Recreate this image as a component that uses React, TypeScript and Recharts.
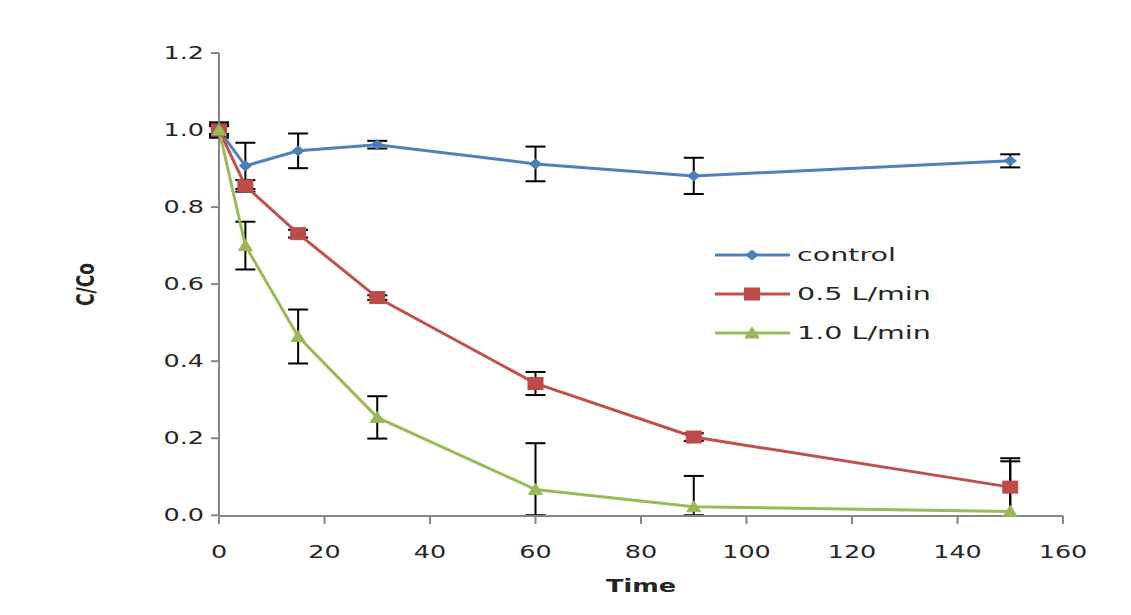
import React from "react";
import { LineChart, Line, XAxis, YAxis, ErrorBar, Legend } from "recharts";

const times = [0, 5, 15, 30, 60, 90, 150];
const control = [1.0, 0.907, 0.946, 0.962, 0.912, 0.881, 0.92];
const controlErr = [0.02, 0.06, 0.045, 0.01, 0.045, 0.047, 0.017];
const lpm05 = [1.0, 0.855, 0.731, 0.565, 0.342, 0.203, 0.073];
const lpm05Err = [0.015, 0.015, 0.01, 0.006, 0.03, 0.01, 0.075];
const lpm10 = [1.0, 0.7, 0.464, 0.254, 0.067, 0.022, 0.01];
const lpm10Err: [number, number][] = [
  [0.01, 0.01],
  [0.062, 0.062],
  [0.07, 0.07],
  [0.055, 0.055],
  [0.067, 0.12],
  [0.022, 0.08],
  [0.012, 0.13],
];
const xTicks = [0, 20, 40, 60, 80, 100, 120, 140, 160];
const yTicks = [0, 0.2, 0.4, 0.6, 0.8, 1.0, 1.2];
const seriesNames = ["control", "0.5 L/min", "1.0 L/min"];

const data = times.map((t, i) => ({
  t,
  control: control[i],
  controlErr: controlErr[i],
  lpm05: lpm05[i],
  lpm05Err: lpm05Err[i],
  lpm10: lpm10[i],
  lpm10Err: lpm10Err[i],
}));

const BLUE = "#4f81bd";
const RED = "#c0504d";
const GREEN = "#9bbb59";
const AXIS = "#868686";
const FONT = "'DejaVu Sans', Verdana, sans-serif";
const SX = 1.5;
const LSX = 1.68;

const Diamond = (p: any) => {
  const { cx, cy } = p;
  if (cx == null || cy == null) return null;
  return <path d={`M${cx},${cy - 5} L${cx + 6},${cy} L${cx},${cy + 5} L${cx - 6},${cy} Z`} fill="#4a7ebb" stroke="#4a7ebb" />;
};
const Square = (p: any) => {
  const { cx, cy } = p;
  if (cx == null || cy == null) return null;
  return <rect x={cx - 7.5} y={cy - 6} width={15} height={12} fill="#be4b48" stroke="#be4b48" />;
};
const Triangle = (p: any) => {
  const { cx, cy } = p;
  if (cx == null || cy == null) return null;
  return <path d={`M${cx},${cy - 6} L${cx + 7},${cy + 5} L${cx - 7},${cy + 5} Z`} fill="#98b954" stroke="#98b954" />;
};

const XTick = (p: any) => (
  <text
    transform={`translate(${p.x},${p.y}) scale(${SX},1)`}
    textAnchor="middle"
    dy="0.71em"
    fontFamily={FONT}
    fontSize={17}
    fill="#262626"
  >
    {p.payload.value}
  </text>
);
const YTick = (p: any) => (
  <text
    transform={`translate(${p.x},${p.y}) scale(${SX},1)`}
    textAnchor="end"
    dy="0.35em"
    fontFamily={FONT}
    fontSize={17}
    fill="#262626"
  >
    {Number(p.payload.value).toFixed(1)}
  </text>
);

const XLabel = (p: any) => {
  const vb = p.viewBox || {};
  return (
    <text
      transform={`translate(${vb.x + vb.width / 2},${vb.y + 76}) scale(${SX},1)`}
      textAnchor="middle"
      fontFamily={FONT}
      fontSize={17}
      fontWeight="bold"
      fill="#262626"
    >
      Time
    </text>
  );
};
const YLabel = (p: any) => {
  const vb = p.viewBox || {};
  return (
    <text
      transform={`translate(77,${vb.y + vb.height / 2}) rotate(-90) scale(1,${SX})`}
      textAnchor="middle"
      dy="0.35em"
      fontFamily={FONT}
      fontSize={17}
      fontWeight="bold"
      fill="#262626"
    >
      C/Co
    </text>
  );
};

const LegendBox = () => {
  const colors = [BLUE, RED, GREEN];
  const markers = [
    (cx: number, cy: number) => <Diamond cx={cx} cy={cy} />,
    (cx: number, cy: number) => <Square cx={cx} cy={cy} />,
    (cx: number, cy: number) => <Triangle cx={cx} cy={cy} />,
  ];
  return (
    <svg width={260} height={110}>
      {seriesNames.map((name, i) => {
        const y = 15 + i * 39;
        return (
          <g key={name}>
            <line x1={0} y1={y} x2={75} y2={y} stroke={colors[i]} strokeWidth={3} />
            {markers[i](37, y)}
            <text
              transform={`translate(82,${y}) scale(${LSX},1)`}
              dy="0.35em"
              fontFamily={FONT}
              fontSize={17}
              fill="#262626"
            >
              {name}
            </text>
          </g>
        );
      })}
    </svg>
  );
};

export default function App() {
  return (
    <LineChart
      width={1115}
      height={600}
      data={data}
      margin={{ top: 45, right: 60, bottom: 0, left: 0 }}
    >
      <XAxis
        dataKey="t"
        type="number"
        domain={[0, 160]}
        ticks={xTicks}
        height={92}
        stroke={AXIS}
        strokeWidth={2}
        tickSize={8}
        tickMargin={22}
        tick={<XTick />}
        label={XLabel}
      />
      <YAxis
        type="number"
        domain={[0, 1.2]}
        ticks={yTicks}
        width={211}
        stroke={AXIS}
        strokeWidth={2}
        tickSize={8}
        tickMargin={7}
        tick={<YTick />}
        label={YLabel}
      />
      <Legend
        layout="vertical"
        align="center"
        verticalAlign="middle"
        wrapperStyle={{ left: 707, top: 232, width: 260, height: 110 }}
        content={() => <LegendBox />}
      />
      <Line
        dataKey="control"
        name={seriesNames[0]}
        stroke={BLUE}
        strokeWidth={3}
        dot={<Diamond />}
        activeDot={false}
        isAnimationActive={false}
      >
        <ErrorBar dataKey="controlErr" width={10} stroke="#000" strokeWidth={2} direction="y" />
      </Line>
      <Line
        dataKey="lpm05"
        name={seriesNames[1]}
        stroke={RED}
        strokeWidth={3}
        dot={<Square />}
        activeDot={false}
        isAnimationActive={false}
      >
        <ErrorBar dataKey="lpm05Err" width={10} stroke="#000" strokeWidth={2} direction="y" />
      </Line>
      <Line
        dataKey="lpm10"
        name={seriesNames[2]}
        stroke={GREEN}
        strokeWidth={3}
        dot={<Triangle />}
        activeDot={false}
        isAnimationActive={false}
      >
        <ErrorBar dataKey="lpm10Err" width={10} stroke="#000" strokeWidth={2} direction="y" />
      </Line>
    </LineChart>
  );
}
